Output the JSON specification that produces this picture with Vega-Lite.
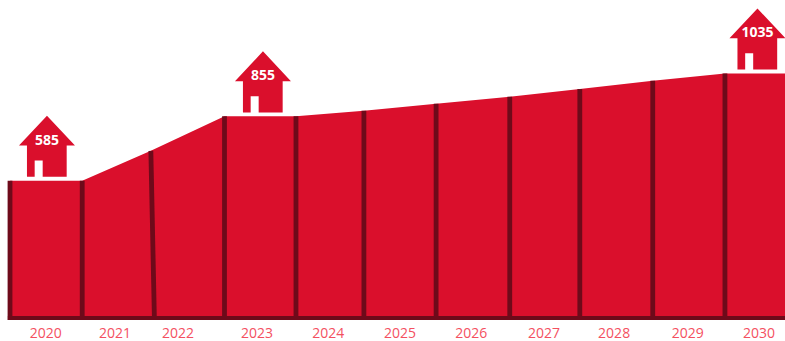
{
  "$schema": "https://vega.github.io/schema/vega-lite/v6.json",
  "width": 785,
  "height": 341,
  "autosize": "none",
  "padding": 0,
  "background": "white",
  "view": {"stroke": null},
  "config": {"style": {"cell": {"stroke": null}}},
  "datasets": {
    "profile": [
      {"edge": 2020.0, "base": 2020.0, "units": 585},
      {"edge": 2021.01, "base": 2021.01, "units": 585},
      {"edge": 2021.97, "base": 2022.02, "units": 710},
      {"edge": 2023.0, "base": 2023.0, "units": 855},
      {"edge": 2024.0, "base": 2024.0, "units": 855},
      {"edge": 2024.95, "base": 2024.95, "units": 878},
      {"edge": 2025.96, "base": 2025.96, "units": 908},
      {"edge": 2026.99, "base": 2026.99, "units": 937},
      {"edge": 2027.97, "base": 2027.97, "units": 970},
      {"edge": 2028.99, "base": 2028.99, "units": 1004},
      {"edge": 2030.0, "base": 2030.0, "units": 1035},
      {"edge": 2030.84, "base": null, "units": 1035}
    ],
    "years": [
      {"year": "2020", "mid": 2020.5},
      {"year": "2021", "mid": 2021.47},
      {"year": "2022", "mid": 2022.35},
      {"year": "2023", "mid": 2023.455},
      {"year": "2024", "mid": 2024.45},
      {"year": "2025", "mid": 2025.455},
      {"year": "2026", "mid": 2026.45},
      {"year": "2027", "mid": 2027.47},
      {"year": "2028", "mid": 2028.45},
      {"year": "2029", "mid": 2029.48},
      {"year": "2030", "mid": 2030.475}
    ],
    "homes": [
      {"year": "2020", "at": 2020.517, "units": 585},
      {"year": "2023", "at": 2023.538, "units": 855},
      {"year": "2030", "at": 2030.455, "units": 1035}
    ]
  },
  "layer": [
    {
      "data": {"name": "profile"},
      "mark": {"type": "area", "color": "#DA0F2C", "opacity": 1, "interpolate": "linear"},
      "encoding": {
        "x": {"field": "edge", "type": "quantitative", "scale": {"domain": [2019.86, 2030.84], "nice": false, "zero": false}, "axis": null},
        "y": {"field": "units", "type": "quantitative", "scale": {"domain": [-88.2, 1343.4], "nice": false, "zero": false}, "axis": null},
        "y2": {"datum": 0}
      }
    },
    {
      "data": {"name": "profile"},
      "transform": [{"filter": "datum.base !== null"}],
      "mark": {"type": "rule", "color": "#6E0A1A", "opacity": 1, "strokeWidth": 4.8},
      "encoding": {
        "x": {"field": "edge", "type": "quantitative"},
        "x2": {"field": "base"},
        "y": {"field": "units", "type": "quantitative"},
        "y2": {"datum": 0}
      }
    },
    {
      "data": {"values": [{"from": 2019.97, "to": 2030.84, "floor": 8}]},
      "mark": {"type": "rule", "color": "#6E0A1A", "opacity": 1, "strokeWidth": 4},
      "encoding": {
        "x": {"field": "from", "type": "quantitative"},
        "x2": {"field": "to"},
        "y": {"field": "floor", "type": "quantitative"}
      }
    },
    {
      "data": {"name": "homes"},
      "mark": {
        "type": "point",
        "filled": true,
        "opacity": 1,
        "color": "#DA0F2C",
        "size": 3600,
        "yOffset": -34.5,
        "shape": "M0,-1.017 L0.933,-0.02 L0.657,-0.02 L0.657,1.02 L-0.143,1.02 L-0.143,0.477 L-0.41,0.477 L-0.41,1.02 L-0.667,1.02 L-0.667,-0.02 L-0.933,-0.02 Z"
      },
      "encoding": {
        "x": {"field": "at", "type": "quantitative"},
        "y": {"field": "units", "type": "quantitative"}
      }
    },
    {
      "data": {"name": "homes"},
      "mark": {"type": "text", "color": "white", "font": "Open Sans", "fontWeight": "bold", "fontSize": 14, "baseline": "middle", "align": "center", "dy": -40},
      "encoding": {
        "x": {"field": "at", "type": "quantitative"},
        "y": {"field": "units", "type": "quantitative"},
        "text": {"field": "units", "type": "quantitative"}
      }
    },
    {
      "data": {"name": "years"},
      "mark": {"type": "text", "color": "#F4505F", "font": "Open Sans", "fontSize": 14, "baseline": "middle", "align": "center", "dy": 14},
      "encoding": {
        "x": {"field": "mid", "type": "quantitative"},
        "y": {"datum": 0},
        "text": {"field": "year", "type": "nominal"}
      }
    }
  ]
}
